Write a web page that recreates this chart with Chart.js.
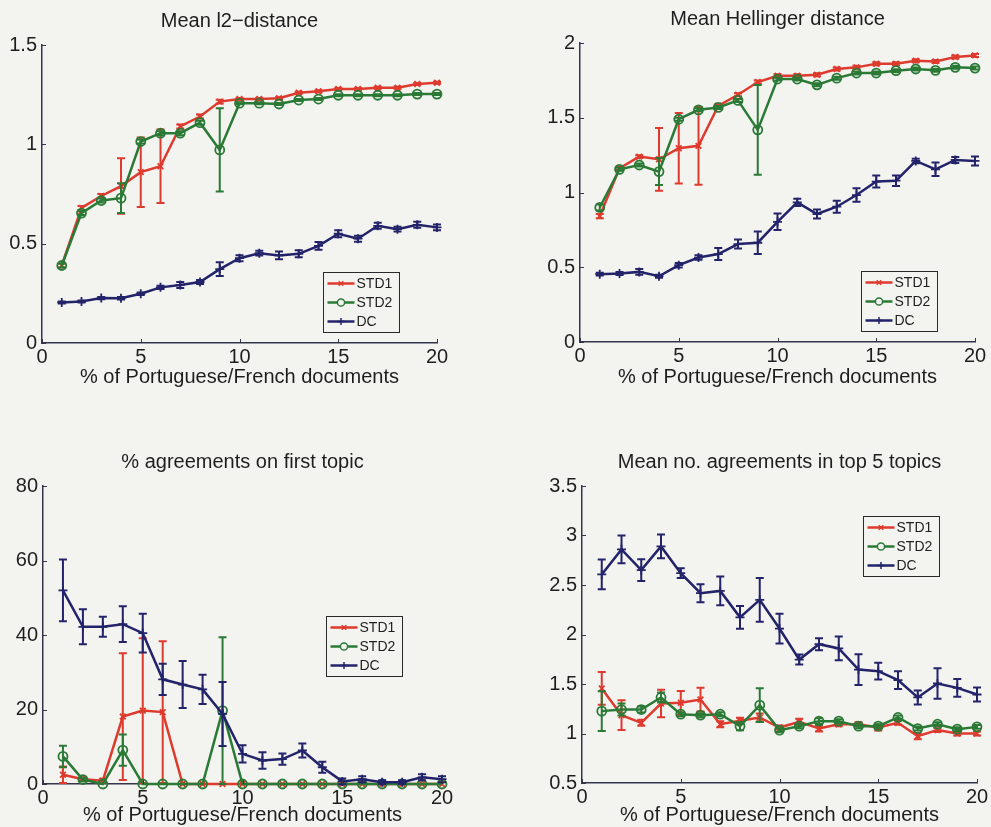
<!DOCTYPE html>
<html>
<head>
<meta charset="utf-8">
<script src="https://cdn.jsdelivr.net/npm/chart.js@4/dist/chart.umd.min.js"></script>
<style>
  html, body { margin: 0; padding: 0; background: #f3f3f0; }
  #wrap { position: relative; width: 991px; height: 827px; overflow: hidden; }
  canvas { position: absolute; }
</style>
</head>
<body>
<div id="wrap">
  <canvas id="c1"></canvas>
  <canvas id="c2"></canvas>
  <canvas id="c3"></canvas>
  <canvas id="c4"></canvas>
</div>
<script>
// x positions: % of Portuguese/French documents
const docShare = [1,2,3,4,5,6,7,8,9,10,11,12,13,14,15,16,17,18,19,20];
const seriesNames = ['STD1', 'STD2', 'DC'];
const xAxisLabel = '% of Portuguese/French documents';

// Mean l2-distance
const l2Std1    = [0.39,0.68,0.74,0.79,0.86,0.89,1.09,1.14,1.215,1.228,1.228,1.232,1.26,1.267,1.279,1.279,1.285,1.285,1.304,1.31];
const l2Std1Err = [0.01,0.01,0.01,0.14,0.175,0.185,0.01,0.01,0.01,0.005,0.005,0.005,0.005,0.005,0.005,0.005,0.005,0.005,0.005,0.005];
const l2Std2    = [0.39,0.654,0.717,0.729,1.014,1.056,1.056,1.109,0.972,1.207,1.207,1.203,1.223,1.228,1.247,1.247,1.247,1.247,1.253,1.253];
const l2Std2Err = [0.01,0.01,0.01,0.075,0.01,0.01,0.01,0.01,0.21,0.005,0.005,0.005,0.005,0.005,0.005,0.005,0.005,0.005,0.005,0.005];
const l2Dc      = [0.204,0.209,0.226,0.225,0.248,0.28,0.292,0.307,0.372,0.427,0.452,0.441,0.449,0.489,0.55,0.525,0.59,0.573,0.595,0.582];
const l2DcErr   = [0.005,0.005,0.006,0.006,0.006,0.008,0.015,0.01,0.035,0.015,0.012,0.02,0.018,0.02,0.018,0.015,0.015,0.012,0.015,0.015];

// Mean Hellinger distance
const helStd1    = [0.842,1.162,1.24,1.222,1.296,1.312,1.58,1.654,1.739,1.781,1.781,1.788,1.826,1.837,1.861,1.861,1.882,1.877,1.906,1.917];
const helStd1Err = [0.015,0.01,0.01,0.21,0.235,0.26,0.01,0.01,0.01,0.01,0.01,0.01,0.01,0.01,0.01,0.01,0.01,0.01,0.01,0.01];
const helStd2    = [0.9,1.155,1.184,1.14,1.49,1.553,1.569,1.616,1.419,1.759,1.759,1.72,1.765,1.799,1.799,1.815,1.826,1.817,1.837,1.832];
const helStd2Err = [0.02,0.01,0.01,0.09,0.01,0.01,0.01,0.01,0.3,0.01,0.01,0.01,0.01,0.01,0.01,0.01,0.01,0.01,0.01,0.01];
const helDc      = [0.454,0.458,0.469,0.44,0.514,0.565,0.588,0.655,0.664,0.804,0.934,0.856,0.905,0.983,1.073,1.079,1.211,1.155,1.218,1.211];
const helDcErr   = [0.01,0.01,0.02,0.01,0.015,0.015,0.04,0.03,0.075,0.055,0.025,0.03,0.04,0.045,0.04,0.035,0.015,0.045,0.02,0.03];

// % agreements on first topic
const firstStd1    = [2.5,1.3,0.9,18.1,19.7,19.3,0,0,0,0,0,0,0,0,0,0,0,0,0,0];
const firstStd1Err = [2.2,0.5,0.5,17,19.4,19,0,0,0,0,0,0,0,0,0,0,0,0,0,0];
const firstStd2    = [7.4,1.2,0,9.1,0,0,0,0,19.7,0,0,0,0,0,0,0,0,0,0,0];
const firstStd2Err = [2.9,0.5,0,4.2,0,0,0,0,19.7,0,0,0,0,0,0,0,0,0,0,0];
const firstDc      = [52.0,42.2,42.2,42.9,40.5,28.1,26.7,25.4,18.8,8.1,6.3,6.7,9.0,4.5,0.7,1.3,0.5,0.5,1.8,1.3];
const firstDcErr   = [8.3,4.7,2.7,4.8,5.2,4.2,6.3,3.9,8.6,2.3,2.2,1.5,1.9,1.5,0.8,0.8,0.5,0.5,0.8,0.8];

// Mean no. agreements in top 5 topics
const top5Std1    = [1.455,1.185,1.108,1.303,1.31,1.343,1.094,1.128,1.162,1.06,1.118,1.05,1.094,1.094,1.06,1.108,0.973,1.034,1.0,1.0];
const top5Std1Err = [0.165,0.15,0.03,0.14,0.12,0.12,0.03,0.03,0.04,0.02,0.03,0.03,0.02,0.02,0.03,0.02,0.03,0.02,0.02,0.02];
const top5Std2    = [1.226,1.242,1.242,1.364,1.195,1.185,1.195,1.074,1.286,1.034,1.074,1.125,1.125,1.074,1.074,1.162,1.05,1.094,1.044,1.067];
const top5Std2Err = [0.2,0.06,0.03,0.05,0.02,0.02,0.02,0.04,0.17,0.02,0.02,0.03,0.02,0.02,0.02,0.02,0.02,0.02,0.02,0.02];
const top5Dc      = [2.607,2.86,2.65,2.89,2.62,2.417,2.44,2.173,2.35,2.06,1.747,1.902,1.859,1.646,1.63,1.539,1.364,1.505,1.461,1.394];
const top5DcErr   = [0.15,0.14,0.11,0.12,0.05,0.09,0.145,0.115,0.22,0.15,0.05,0.06,0.12,0.155,0.085,0.09,0.07,0.155,0.09,0.07];

// ---- styling ----
const FONT = '"Liberation Sans", Arial, Helvetica, sans-serif';
const BG = '#f3f3f0';
const INK = '#1e1e1e';
const AXIS = '#34344a';
const COLORS = ['#de3a2e', '#2a7a36', '#23236a'];
const MARKERS = [
  { pointStyle: 'crossRot', radius: 4 },
  { pointStyle: 'circle',   radius: 4.5 },
  { pointStyle: 'cross',    radius: 4.5 }
];

// vertical error bars with caps, drawn right after each line so layering follows the series
const errorBarPlugin = {
  id: 'errorBars',
  afterDatasetDraw(chart, args) {
    const ds = chart.data.datasets[args.index];
    if (!ds.errors) return;
    const { ctx } = chart;
    const xs = chart.scales.x, ys = chart.scales.y;
    ctx.save();
    ctx.strokeStyle = ds.borderColor;
    ctx.lineWidth = 2;
    ds.data.forEach((p, i) => {
      const e = ds.errors[i];
      if (!e) return;
      const px = xs.getPixelForValue(p.x);
      const top = ys.getPixelForValue(p.y + e);
      const bot = ys.getPixelForValue(p.y - e);
      const cap = 4;
      ctx.beginPath();
      ctx.moveTo(px, top); ctx.lineTo(px, bot);
      ctx.moveTo(px - cap, top); ctx.lineTo(px + cap, top);
      ctx.moveTo(px - cap, bot); ctx.lineTo(px + cap, bot);
      ctx.stroke();
    });
    ctx.restore();
  }
};

// short tick marks pointing into the plot area
const innerTicksPlugin = {
  id: 'innerTicks',
  afterDraw(chart) {
    const { ctx, chartArea } = chart;
    const xs = chart.scales.x, ys = chart.scales.y;
    const len = 4;
    ctx.save();
    ctx.strokeStyle = AXIS;
    ctx.lineWidth = 1;
    ctx.beginPath();
    xs.ticks.forEach(t => {
      const px = Math.round(xs.getPixelForValue(t.value)) + 0.5;
      ctx.moveTo(px, chartArea.bottom);
      ctx.lineTo(px, chartArea.bottom - len);
    });
    ys.ticks.forEach(t => {
      const py = Math.round(ys.getPixelForValue(t.value)) + 0.5;
      ctx.moveTo(chartArea.left, py);
      ctx.lineTo(chartArea.left + len, py);
    });
    ctx.stroke();
    ctx.restore();
  }
};

// boxed legend placed inside the plot area
const boxLegendPlugin = {
  id: 'boxLegend',
  afterDraw(chart, args, opts) {
    if (!opts || opts.left === undefined) return;
    const { ctx, chartArea } = chart;
    const x0 = Math.round(chartArea.left + opts.left) + 0.5;
    const y0 = Math.round(chartArea.top + opts.top) + 0.5;
    const w = 76, h = 60;
    ctx.save();
    ctx.fillStyle = BG;
    ctx.fillRect(x0, y0, w, h);
    ctx.strokeStyle = '#2a2a2a';
    ctx.lineWidth = 1;
    ctx.strokeRect(x0, y0, w, h);
    chart.data.datasets.forEach((ds, i) => {
      const yy = y0 + 11 + i * 19;
      ctx.strokeStyle = ds.borderColor;
      ctx.lineWidth = 2.5;
      ctx.beginPath();
      ctx.moveTo(x0 + 4, yy);
      ctx.lineTo(x0 + 31, yy);
      ctx.stroke();
      ctx.fillStyle = BG;
      ctx.lineWidth = 1.5;
      Chart.helpers.drawPoint(ctx, {
        pointStyle: ds.pointStyle, rotation: 0,
        radius: ds.pointRadius * 0.8, borderWidth: 1.5
      }, x0 + 17.5, yy);
      ctx.fillStyle = INK;
      ctx.font = '14px ' + FONT;
      ctx.textBaseline = 'middle';
      ctx.textAlign = 'left';
      ctx.fillText(ds.label, x0 + 33, yy + 0.5);
    });
    ctx.restore();
  }
};

function series(values, errors, idx) {
  return {
    label: seriesNames[idx],
    data: docShare.map((x, i) => ({ x: x, y: values[i] })),
    errors: errors,
    borderColor: COLORS[idx],
    backgroundColor: COLORS[idx],
    borderWidth: 2.5,
    pointStyle: MARKERS[idx].pointStyle,
    pointRadius: MARKERS[idx].radius,
    pointBorderWidth: 1.8,
    pointBorderColor: COLORS[idx],
    pointBackgroundColor: 'rgba(0,0,0,0)',
    tension: 0,
    clip: false,
    order: 3 - idx
  };
}

function makePanel(id, box, area, title, yRange, xTitleCenter, legendPos, datasets) {
  const cv = document.getElementById(id);
  cv.width = box.w; cv.height = box.h;
  cv.style.left = box.left + 'px';
  cv.style.top = box.top + 'px';
  cv.style.width = box.w + 'px';
  cv.style.height = box.h + 'px';

  const titleBlock = area.t - box.top;            // space above the plot area
  const titleLH = 20;
  const titlePadTop = titleBlock - 34;             // title centred 24px above the plot
  const titlePadBottom = titleBlock - titlePadTop - titleLH;
  const yAxisW = area.l - box.left;
  const xAxisH = xTitleCenter - area.b + 10;
  const padBottom = box.top + box.h - (area.b + xAxisH);
  const padRight = box.left + box.w - area.r;

  const tickFont = { family: FONT, size: 20 };
  return new Chart(cv, {
    type: 'line',
    data: { datasets: datasets },
    options: {
      responsive: false,
      animation: false,
      devicePixelRatio: 1,
      events: [],
      layout: { padding: { left: 0, top: 0, right: padRight, bottom: padBottom } },
      plugins: {
        legend: { display: false },
        tooltip: { enabled: false },
        title: {
          display: true, text: title, fullSize: false, color: INK,
          font: { family: FONT, size: 20, weight: 'normal', lineHeight: titleLH + 'px' },
          padding: { top: titlePadTop, bottom: titlePadBottom }
        },
        boxLegend: legendPos
      },
      scales: {
        x: {
          type: 'linear', min: 0, max: 20,
          grid: { display: false, drawTicks: false },
          border: { display: true, color: AXIS, width: 1.5 },
          ticks: { stepSize: 5, padding: 2, color: INK, font: tickFont, maxRotation: 0, autoSkip: false },
          title: {
            display: true, text: xAxisLabel, color: INK,
            font: { family: FONT, size: 20, lineHeight: '20px' },
            padding: { top: 0, bottom: 0 }
          },
          afterFit(s) { s.height = xAxisH; }
        },
        y: {
          type: 'linear', min: yRange[0], max: yRange[1],
          grid: { display: false, drawTicks: false },
          border: { display: true, color: AXIS, width: 1.5 },
          ticks: {
            stepSize: yRange[2], padding: 5, color: INK, font: tickFont,
            callback: (v) => String(Math.round(v * 100) / 100)
          },
          afterFit(s) { s.width = yAxisW; }
        }
      }
    },
    plugins: [errorBarPlugin, innerTicksPlugin, boxLegendPlugin]
  });
}

makePanel('c1',
  { left: 0, top: 0, w: 480, h: 400 },
  { l: 42, t: 45, r: 437, b: 343 },
  'Mean l2\u2212distance', [0, 1.5, 0.5], 377, { left: 281, top: 227 },
  [series(l2Std1, l2Std1Err, 0), series(l2Std2, l2Std2Err, 1), series(l2Dc, l2DcErr, 2)]);

makePanel('c2',
  { left: 495, top: 0, w: 496, h: 400 },
  { l: 580, t: 43, r: 975, b: 342 },
  'Mean Hellinger distance', [0, 2, 0.5], 377, { left: 281, top: 228 },
  [series(helStd1, helStd1Err, 0), series(helStd2, helStd2Err, 1), series(helDc, helDcErr, 2)]);

makePanel('c3',
  { left: 0, top: 430, w: 480, h: 397 },
  { l: 43, t: 486, r: 442, b: 784 },
  '% agreements on first topic', [0, 80, 20], 815, { left: 283, top: 130 },
  [series(firstStd1, firstStd1Err, 0), series(firstStd2, firstStd2Err, 1), series(firstDc, firstDcErr, 2)]);

makePanel('c4',
  { left: 495, top: 430, w: 496, h: 397 },
  { l: 582, t: 486, r: 977, b: 783 },
  'Mean no. agreements in top 5 topics', [0.5, 3.5, 0.5], 815, { left: 281, top: 30 },
  [series(top5Std1, top5Std1Err, 0), series(top5Std2, top5Std2Err, 1), series(top5Dc, top5DcErr, 2)]);
</script>
</body>
</html>
